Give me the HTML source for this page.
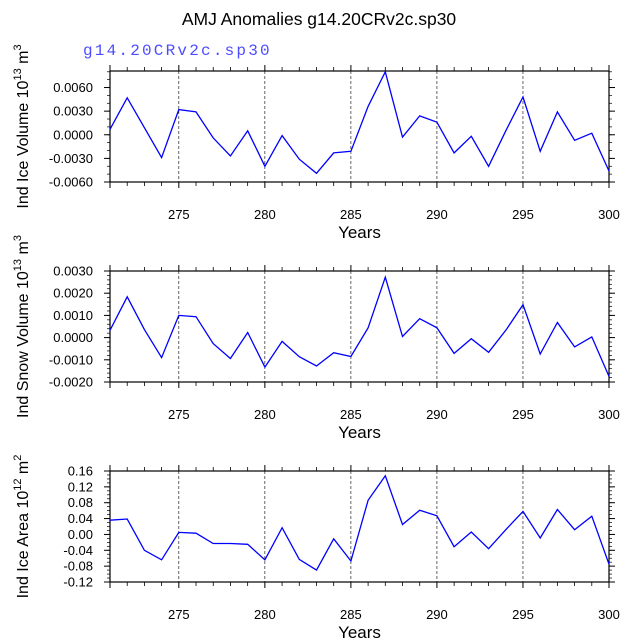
<!DOCTYPE html>
<html><head><meta charset="utf-8"><style>
body{margin:0;background:#fff;}
svg text{font-family:"Liberation Sans",sans-serif;fill:#000;}
</style></head><body>
<svg id="chart" width="638" height="638" viewBox="0 0 638 638" xmlns="http://www.w3.org/2000/svg">
<text x="319" y="25" text-anchor="middle" font-size="17.5">AMJ Anomalies g14.20CRv2c.sp30</text>
<text x="83" y="55" font-size="16" letter-spacing="2.2" style="fill:#4d4dff;font-family:'Liberation Mono',monospace">g14.20CRv2c.sp30</text>
</svg>
<script>
const years = [271,272,273,274,275,276,277,278,279,280,281,282,283,284,285,286,287,288,289,290,291,292,293,294,295,296,297,298,299,300];
const iceVolume = [0.0007,0.0047,0.0009,-0.0029,0.0032,0.0029,-0.0004,-0.0027,0.0005,-0.0040,-0.0001,-0.0031,-0.0049,-0.0023,-0.0021,0.0036,0.0080,-0.0003,0.0024,0.0016,-0.0023,-0.0002,-0.0040,0.0005,0.0048,-0.0021,0.0029,-0.0007,0.0002,-0.0046];
const snowVolume = [0.00033,0.00184,0.00036,-0.00090,0.00100,0.00094,-0.00027,-0.00094,0.00023,-0.00133,-0.00017,-0.00086,-0.00128,-0.00068,-0.00085,0.00044,0.00272,0.00005,0.00085,0.00044,-0.00071,-0.00005,-0.00066,0.00033,0.00148,-0.00074,0.00068,-0.00042,0.00003,-0.00175];
const iceArea = [0.036,0.039,-0.040,-0.064,0.005,0.003,-0.023,-0.023,-0.025,-0.064,0.017,-0.063,-0.090,-0.011,-0.067,0.086,0.148,0.025,0.061,0.047,-0.031,0.006,-0.036,0.012,0.058,-0.009,0.063,0.012,0.046,-0.075];
const xTicks = [275,280,285,290,295,300];
const iceVolTicks = ["0.0060","0.0030","0.0000","-0.0030","-0.0060"];
const snowVolTicks = ["0.0030","0.0020","0.0010","0.0000","-0.0010","-0.0020"];
const areaTicks = ["0.16","0.12","0.08","0.04","0.00","-0.04","-0.08","-0.12"];

const NS="http://www.w3.org/2000/svg";
const svg=document.getElementById('chart');
function mk(tag,attrs,parent){const e=document.createElementNS(NS,tag);for(const k in attrs)e.setAttribute(k,attrs[k]);(parent||svg).appendChild(e);return e;}
const X0=110,X1=609,XMIN=271,XMAX=300;
function xs(v){return X0+(v-XMIN)/(XMAX-XMIN)*(X1-X0);}

const panels=[
 {top:71,ymin:-0.006,ymax:0.0081,ticks:iceVolTicks,minor:0.001,data:iceVolume,lab:["Ind Ice Volume 10","13"," m","3"],name:"ice-volume"},
 {top:271,ymin:-0.002,ymax:0.003,ticks:snowVolTicks,minor:0.0002,data:snowVolume,lab:["Ind Snow Volume 10","13"," m","3"],name:"snow-volume"},
 {top:471,ymin:-0.12,ymax:0.16,ticks:areaTicks,minor:0.01,data:iceArea,lab:["Ind Ice Area 10","12"," m","2"],name:"ice-area"}
];
panels.forEach(p=>{
 const T=p.top,B=T+111;
 const ys=v=>B-(v-p.ymin)/(p.ymax-p.ymin)*(B-T);
 const g=mk('g',{});
 
 
 xTicks.forEach(t=>{if(t<XMAX){const l=mk('line',{x1:xs(t),x2:xs(t),y1:T,y2:B,stroke:'#000','stroke-width':0.6,'stroke-dasharray':'3,2'},g);
  
  }});
 for(let y=XMIN;y<=XMAX;y++){const maj=xTicks.includes(y)||y===XMIN;const len=maj?6:4;
  mk('line',{x1:xs(y),x2:xs(y),y1:B,y2:B+len,stroke:'#000','stroke-width':maj?1:0.8},g);
  mk('line',{x1:xs(y),x2:xs(y),y1:T,y2:T-len,stroke:'#000','stroke-width':maj?1:0.8},g);}
 const nM=Math.round((p.ymax-p.ymin)/p.minor);
 for(let i=0;i<=nM;i++){const v=p.ymin+i*p.minor;if(v>p.ymax+1e-9)break;const y=ys(v);
  mk('line',{x1:X0-3,x2:X0,y1:y,y2:y,stroke:'#000','stroke-width':0.7},g);
  mk('line',{x1:X1,x2:X1+3,y1:y,y2:y,stroke:'#000','stroke-width':0.7},g);}
 p.ticks.forEach(s=>{const y=ys(parseFloat(s));
  mk('line',{x1:X0-6,x2:X0,y1:y,y2:y,stroke:'#000','stroke-width':1},g);
  mk('line',{x1:X1,x2:X1+6,y1:y,y2:y,stroke:'#000','stroke-width':1},g);
  const t=mk('text',{x:X0-17,y:y+4.5,'text-anchor':'end','font-size':13},g);t.textContent=s;
  
  });
 xTicks.forEach(v=>{const t=mk('text',{x:xs(v),y:B+37,'text-anchor':'middle','font-size':13},g);t.textContent=v;
  
  });
 const fr=mk('rect',{x:X0,y:T,width:X1-X0,height:B-T,fill:'none',stroke:'#000','stroke-width':1.2},g);
 
 
 const pts=p.data.map((v,i)=>xs(years[i]).toFixed(1)+','+ys(v).toFixed(1)).join(' ');
 const pl=mk('polyline',{points:pts,fill:'none',stroke:'#0000ff','stroke-width':1.3},g);
 
 
 const xt=mk('text',{x:(X0+X1)/2,y:B+56,'text-anchor':'middle','font-size':17},g);xt.textContent='Years';
 
 
 const cy=(T+B)/2;
 const yt=mk('text',{x:0,y:0,'text-anchor':'middle','font-size':16,transform:`translate(28,${cy}) rotate(-90)`},g);
 
 
 p.lab.forEach((s,i)=>{const ts=mk('tspan',{},yt);ts.textContent=s;
  if(i%2===1){ts.setAttribute('font-size','11');ts.setAttribute('dy','-7');}
  else if(i>0){ts.setAttribute('dy','7');}});
});
</script>
</body></html>
